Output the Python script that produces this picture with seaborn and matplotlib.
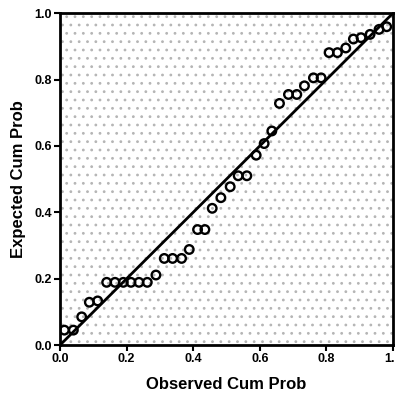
import matplotlib
matplotlib.use("Agg")
import matplotlib.pyplot as plt
import seaborn as sns
import pandas as pd
import numpy as np

# Observed vs expected cumulative probabilities (P-P plot)
observed = [0.013, 0.040, 0.065, 0.088, 0.113,
            0.140, 0.165, 0.190, 0.213, 0.237, 0.262, 0.288,
            0.313, 0.338, 0.365, 0.388, 0.413, 0.435, 0.457,
            0.483, 0.511, 0.535, 0.561, 0.589, 0.613, 0.636,
            0.659, 0.686, 0.711, 0.734, 0.761, 0.784,
            0.808, 0.833, 0.858, 0.881, 0.904, 0.931, 0.958, 0.981]
expected = [0.045, 0.045, 0.085, 0.129, 0.133,
            0.189, 0.189, 0.189, 0.189, 0.189, 0.189, 0.211,
            0.261, 0.261, 0.261, 0.288, 0.348, 0.348, 0.412,
            0.444, 0.477, 0.510, 0.510, 0.572, 0.607, 0.645,
            0.728, 0.755, 0.755, 0.781, 0.805, 0.805,
            0.881, 0.881, 0.895, 0.922, 0.926, 0.936, 0.951, 0.959]
diag = [0.0, 1.0]
ticks = [0.0, 0.2, 0.4, 0.6, 0.8, 1.0]
tick_labels = ["0.0", "0.2", "0.4", "0.6", "0.8", "1.0"]

df = pd.DataFrame({"obs": observed, "exp": expected})
line_df = pd.DataFrame({"x": diag, "y": diag})

sns.set_style("white")
plt.rcParams["font.family"] = ["Liberation Sans", "DejaVu Sans"]
plt.rcParams["font.weight"] = "bold"
plt.rcParams["text.color"] = "black"
plt.rcParams["axes.labelcolor"] = "black"
plt.rcParams["hatch.linewidth"] = 0.8

fig = plt.figure(figsize=(3.95, 3.98), dpi=100)
ax = fig.add_axes([0.152, 0.133, 0.843, 0.834])

# scanned-paper stipple in the plot area
ax.patch.set_hatch("..")
ax.patch.set_edgecolor("#b5b5b5")
ax.patch.set_linewidth(0)

sns.lineplot(data=line_df, x="x", y="y", color="black", linewidth=2.0, ax=ax)
sns.scatterplot(data=df, x="obs", y="exp", marker="o", facecolor="none",
                edgecolor="black", linewidth=1.7, s=38, ax=ax, zorder=3)

ax.set_xlim(0, 1)
ax.set_ylim(0, 1)
ax.set_xticks(ticks)
ax.set_xticklabels(tick_labels)
ax.set_yticks(ticks)
ax.set_yticklabels(tick_labels)
ax.tick_params(direction="out", length=4, width=1.5, labelsize=9, pad=2,
               bottom=True, left=True, colors="black")
for lab in ax.get_xticklabels() + ax.get_yticklabels():
    lab.set_fontweight("bold")

for side in ["left", "right", "top", "bottom"]:
    ax.spines[side].set_visible(True)
    ax.spines[side].set_color("black")
    ax.spines[side].set_linewidth(2.0)

ax.set_xlabel("Observed Cum Prob", fontsize=12, fontweight="bold", labelpad=8)
ax.set_ylabel("Expected Cum Prob", fontsize=12, fontweight="bold", labelpad=6)

fig.savefig("out.png", dpi=100)
